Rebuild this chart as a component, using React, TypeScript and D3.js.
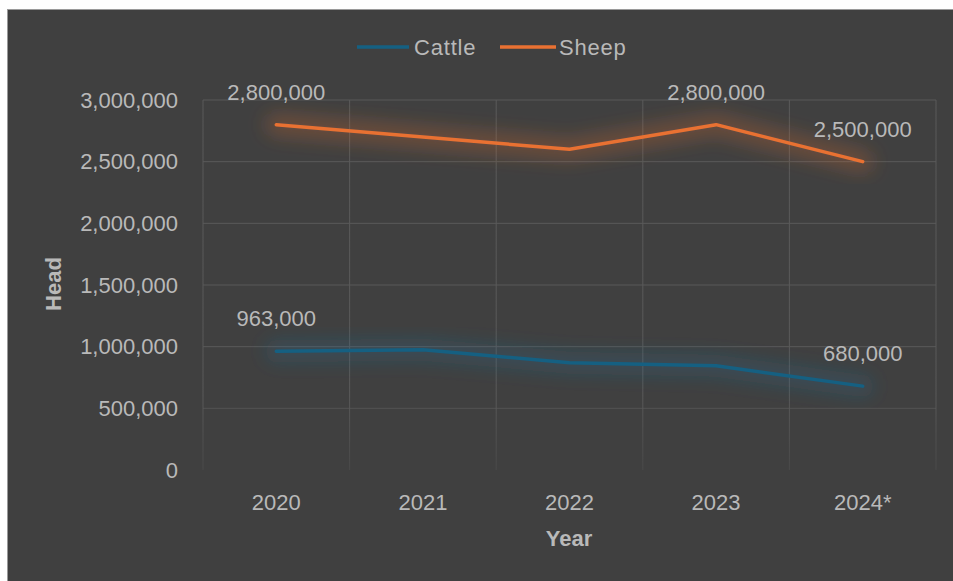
import React from "react";
import * as d3 from "d3";

const years = ["2020", "2021", "2022", "2023", "2024*"];
const cattle = [963000, 975000, 870000, 845000, 680000];
const sheep = [2800000, 2700000, 2600000, 2800000, 2500000];
const yTicks = [0, 500000, 1000000, 1500000, 2000000, 2500000, 3000000];
// indices of points that carry a value label
const cattleLabelled = [0, 4];
const sheepLabelled = [0, 3, 4];

const W = 953;
const H = 581;
const FONT = "'Liberation Sans', Arial, sans-serif";
const TEXT = "#b9b9b9";
const GRID = "#595959";

const series = [
  { name: "Cattle", values: cattle, color: "#156082", glow: "#1d6d95", labelled: cattleLabelled },
  { name: "Sheep", values: sheep, color: "#E97132", glow: "#e97132", labelled: sheepLabelled },
];

export default function App() {
  const x = d3.scaleBand<string>().domain(years).range([203, 936]);
  const y = d3.scaleLinear().domain([0, 3000000]).range([470, 100]);
  const cx = (yr: string) => (x(yr) as number) + x.bandwidth() / 2;
  const fmt = d3.format(",");
  const line = d3
    .line<number>()
    .x((_, i) => cx(years[i]))
    .y((v) => y(v));

  const bounds = [...years.map((yr) => x(yr) as number), 936];

  return (
    <svg
      width={W}
      height={H}
      style={{ position: "absolute", left: 0, top: 0, background: "#fff" }}
      fontFamily={FONT}
    >
      <defs>
        <filter id="glow" x="-20%" y="-60%" width="140%" height="220%">
          <feGaussianBlur stdDeviation="9" />
        </filter>
        <linearGradient id="gridFade" x1="0" y1="0" x2="0" y2="1">
          <stop offset="0.8" stopColor={GRID} stopOpacity={1} />
          <stop offset="1" stopColor={GRID} stopOpacity={0.35} />
        </linearGradient>
      </defs>
      <rect x={7.5} y={9.5} width={W} height={H} fill="#404040" stroke="#9a9a9a" strokeWidth={1} />

      {/* gridlines */}
      {yTicks
        .filter((t) => t > 0)
        .map((t) => (
          <line
            key={t}
            x1={203}
            x2={936}
            y1={y(t)}
            y2={y(t)}
            stroke={GRID}
            strokeWidth={1}
            strokeOpacity={t === 500000 ? 0.75 : 1}
          />
        ))}
      {bounds.map((bx, i) => (
        <rect key={i} x={bx - 0.5} width={1} y={y(3000000)} height={y(0) - y(3000000)} fill="url(#gridFade)" />
      ))}

      {/* y axis labels */}
      {yTicks.map((t) => (
        <text
          key={t}
          x={178}
          y={y(t)}
          dy="0.35em"
          textAnchor="end"
          fontSize={22}
          fill={TEXT}
        >
          {fmt(t)}
        </text>
      ))}

      {/* x axis labels */}
      {years.map((yr) => (
        <text key={yr} x={cx(yr)} y={510} textAnchor="middle" fontSize={22} fill={TEXT}>
          {yr}
        </text>
      ))}

      {/* axis titles */}
      <text x={569} y={546} textAnchor="middle" fontSize={22} fontWeight="bold" fill={TEXT}>
        Year
      </text>
      <text
        transform="translate(61,284) rotate(-90)"
        textAnchor="middle"
        fontSize={22}
        fontWeight="bold"
        fill={TEXT}
      >
        Head
      </text>

      {/* series */}
      {series.map((s) => (
        <g key={s.name}>
          <path
            d={line(s.values) as string}
            fill="none"
            stroke={s.glow}
            strokeWidth={22}
            strokeOpacity={0.26}
            strokeLinejoin="round"
            strokeLinecap="round"
            filter="url(#glow)"
          />
          <path
            d={line(s.values) as string}
            fill="none"
            stroke={s.color}
            strokeWidth={3.5}
            strokeLinejoin="round"
            strokeLinecap="round"
          />
          {s.labelled.map((i) => (
            <text
              key={i}
              x={cx(years[i])}
              y={y(s.values[i]) - 25}
              textAnchor="middle"
              fontSize={22}
              fill={TEXT}
            >
              {fmt(s.values[i])}
            </text>
          ))}
        </g>
      ))}

      {/* legend */}
      <line x1={357} x2={409} y1={47} y2={47} stroke="#156082" strokeWidth={3.5} />
      <text x={414} y={55} fontSize={22} fill={TEXT} letterSpacing={0.8}>
        Cattle
      </text>
      <line x1={500} x2={556} y1={47} y2={47} stroke="#E97132" strokeWidth={3.5} />
      <text x={559} y={55} fontSize={22} fill={TEXT} letterSpacing={0.8}>
        Sheep
      </text>
    </svg>
  );
}
